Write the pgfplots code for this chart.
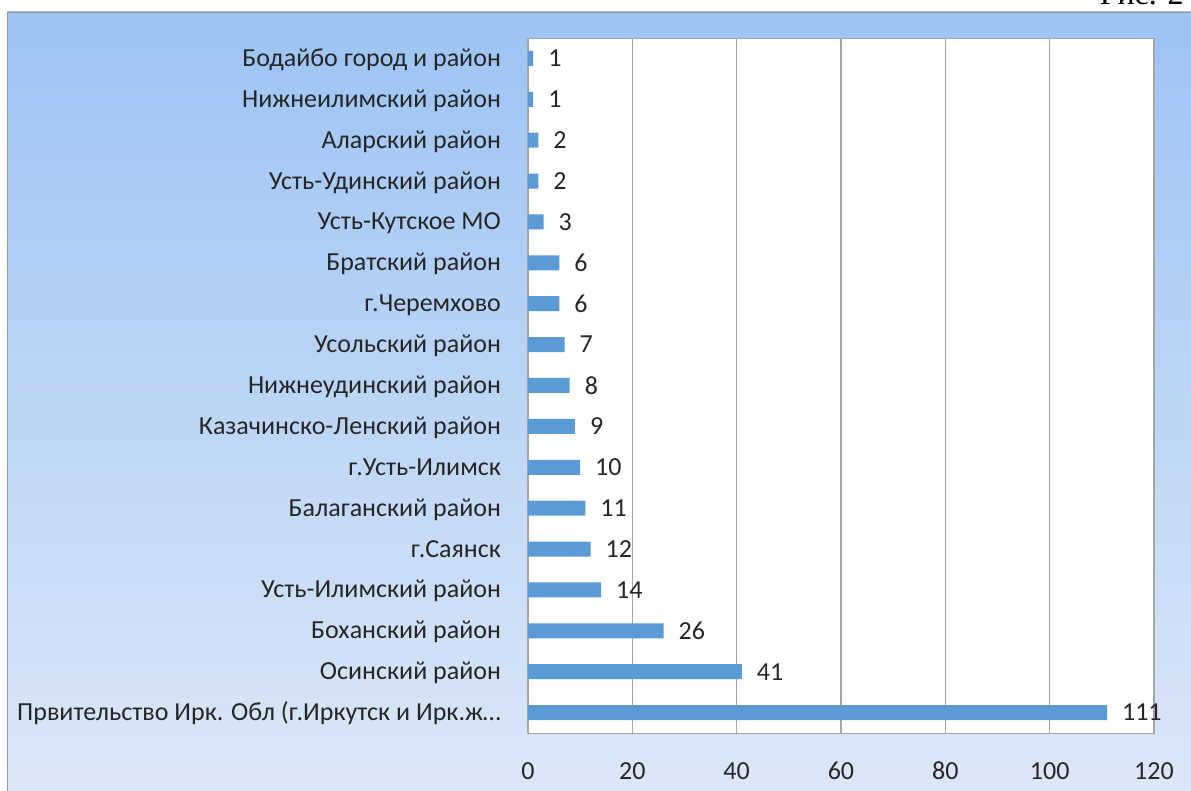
\documentclass[border=0pt]{standalone}
\usepackage{pgfplots}
\pgfplotsset{compat=1.18}
\usepackage{fontspec}
\setmainfont{Carlito}
\newfontfamily\serif{Liberation Serif}
\definecolor{barblue}{HTML}{5B9BD5}
\definecolor{bgtop}{HTML}{9CC3F3}
\definecolor{bgbot}{HTML}{DDE8F8}
\begin{document}
\begin{tikzpicture}
\useasboundingbox (0pt,0pt) rectangle (595.5pt,395.5pt);
\shade[top color=bgtop, bottom color=bgbot, draw=gray!80] (3.5pt,-10pt) rectangle (610pt,389.5pt);
\node[anchor=base east, font=\serif\fontsize{16pt}{16pt}\selectfont, inner sep=0] at (592pt,393pt) {Рис. 2};
\begin{axis}[
  at={(264pt,29pt)}, anchor=south west,
  scale only axis, width=313pt, height=347.5pt,
  xbar, bar width=7.5pt,
  xmin=0, xmax=120, xtick={0,20,...,120},
  ymin=-0.5, ymax=16.5, ytick={0,...,16},
  ytick pos=left,
  yticklabels={Првительство Ирк. Обл (г.Иркутск и Ирк.ж\ldots, Осинский район, Боханский район, Усть-Илимский район, г.Саянск, Балаганский район, г.Усть-Илимск, Казачинско-Ленский район, Нижнеудинский район, Усольский район, г.Черемхово, Братский район, Усть-Кутское МО, Усть-Удинский район, Аларский район, Нижнеилимский район, Бодайбо город и район},
  axis background/.style={fill=white},
  xmajorgrids, grid style={gray!70, line width=0.6pt},
  axis line style={gray!70},
  major tick style={draw=none},
  tick align=outside, major tick length=3pt,
  tick label style={font=\fontsize{13pt}{15pt}\selectfont, text=black!85},
  /pgf/number format/assume math mode=true,
  typeset ticklabels with strut,
  xticklabel style={yshift=-6pt},
  yticklabel style={xshift=-7pt, yshift=-1pt},
  nodes near coords,
  nodes near coords align={horizontal},
  nodes near coords style={font=\fontsize{13pt}{15pt}\selectfont, text=black!85, anchor=west, xshift=4pt},
  point meta=explicit symbolic,
  clip=false,
]
\addplot[fill=barblue, draw=none] table[meta=v] {
x y v
111 0 111
41 1 41
26 2 26
14 3 14
12 4 12
11 5 11
10 6 10
9 7 9
8 8 8
7 9 7
6 10 6
6 11 6
3 12 3
2 13 2
2 14 2
1 15 1
1 16 1
};
\end{axis}
\end{tikzpicture}
\end{document}
